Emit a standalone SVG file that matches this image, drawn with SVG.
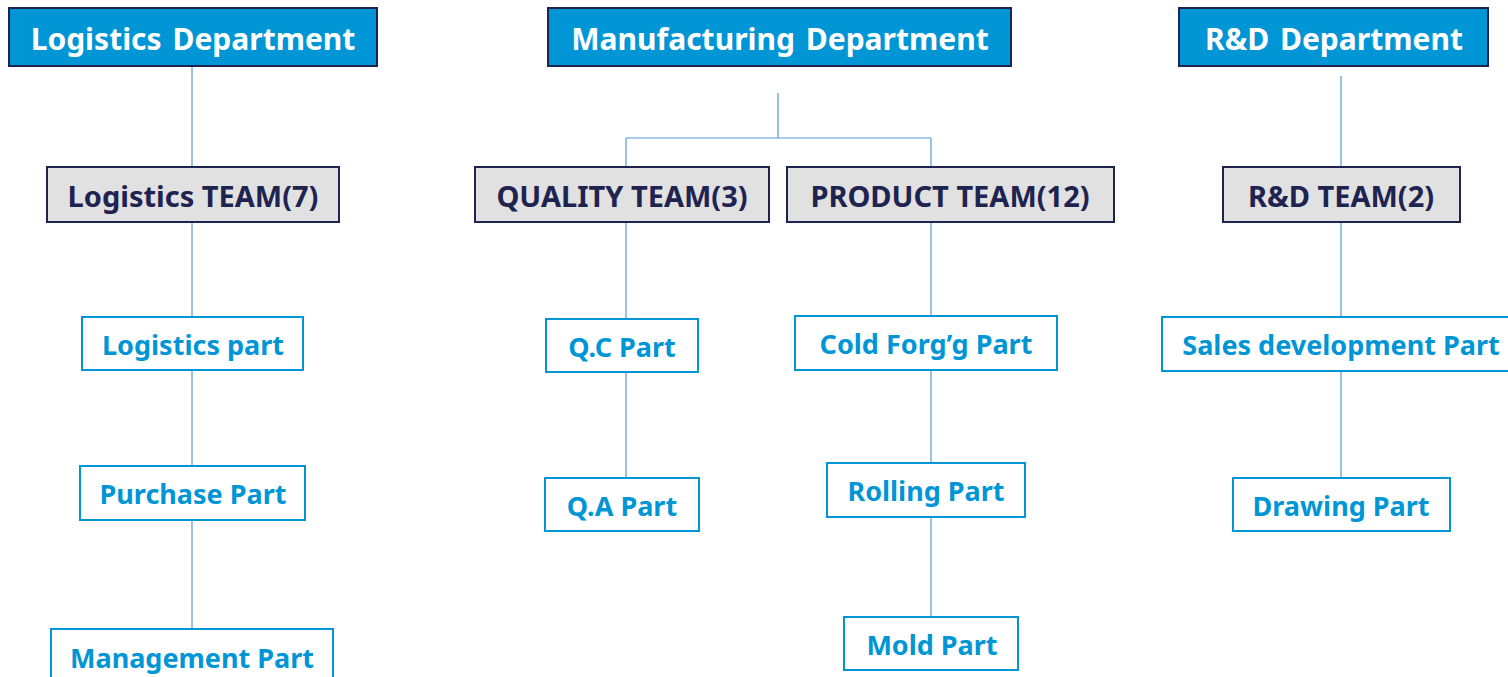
<svg xmlns="http://www.w3.org/2000/svg" width="1508" height="677" viewBox="0 0 1508 677">
  <style>
    text { font-family: "Noto Sans", "Open Sans", "Liberation Sans", sans-serif; font-weight: bold; text-anchor: middle; dominant-baseline: central; }
    .dept rect { fill: #0096D6; stroke: #1F2350; stroke-width: 2; }
    .dept text { fill: #FFFFFF; font-size: 30px; word-spacing: 3px; }
    .team rect { fill: #E1E1E1; stroke: #1F2350; stroke-width: 2; }
    .team text { fill: #1F2350; font-size: 29px; }
    .part rect { fill: #FFFFFF; stroke: #0096D6; stroke-width: 2; }
    .part text { fill: #0096D6; font-size: 27px; }
    .links { stroke: #5B9BD5; stroke-width: 1.2; fill: none; }
  </style>
  <rect width="1508" height="677" fill="#FFFFFF"/>

  <!-- connectors -->
  <g id="connectors" class="links">
    <path d="M192 66V167M192 222V317M192 370V466M192 520V629"/>
    <path d="M778 93V138M626 138H931M626 138V167M931 138V167"/>
    <path d="M626 222V319M626 372V478"/>
    <path d="M931 222V316M931 370V463M931 517V617"/>
    <path d="M1341 76V167M1341 222V317M1341 371V478"/>
  </g>

  <!-- departments -->
  <g id="dept-logistics" class="dept"><rect x="9" y="8" width="368" height="58"/><text x="193" y="38">Logistics Department</text></g>
  <g id="dept-manufacturing" class="dept"><rect x="548" y="8" width="463" height="58"/><text x="780" y="38">Manufacturing Department</text></g>
  <g id="dept-rnd" class="dept"><rect x="1179" y="8" width="309" height="58"/><text x="1334" y="38">R&amp;D Department</text></g>

  <!-- teams -->
  <g id="team-logistics" class="team"><rect x="47" y="167" width="292" height="55"/><text x="193" y="195">Logistics TEAM(7)</text></g>
  <g id="team-quality" class="team"><rect x="475" y="167" width="294" height="55"/><text x="622" y="195">QUALITY TEAM(3)</text></g>
  <g id="team-product" class="team"><rect x="787" y="167" width="327" height="55"/><text x="950" y="195">PRODUCT TEAM(12)</text></g>
  <g id="team-rnd" class="team"><rect x="1223" y="167" width="237" height="55"/><text x="1341" y="195">R&amp;D TEAM(2)</text></g>

  <!-- parts -->
  <g id="part-logistics" class="part"><rect x="82" y="317" width="221" height="53"/><text x="193" y="344">Logistics part</text></g>
  <g id="part-purchase" class="part"><rect x="80" y="466" width="225" height="54"/><text x="193" y="493">Purchase Part</text></g>
  <g id="part-management" class="part"><rect x="51" y="629" width="282" height="60"/><text x="192" y="657">Management Part</text></g>
  <g id="part-qc" class="part"><rect x="546" y="319" width="152" height="53"/><text x="622" y="346">Q.C Part</text></g>
  <g id="part-qa" class="part"><rect x="545" y="478" width="154" height="53"/><text x="622" y="505">Q.A Part</text></g>
  <g id="part-coldforging" class="part"><rect x="795" y="316" width="262" height="54"/><text x="926" y="343">Cold Forg’g Part</text></g>
  <g id="part-rolling" class="part"><rect x="827" y="463" width="198" height="54"/><text x="926" y="490">Rolling Part</text></g>
  <g id="part-mold" class="part"><rect x="844" y="617" width="174" height="53"/><text x="932" y="644">Mold Part</text></g>
  <g id="part-sales" class="part"><rect x="1162" y="317" width="356" height="54"/><text x="1341" y="344">Sales development Part</text></g>
  <g id="part-drawing" class="part"><rect x="1233" y="478" width="217" height="53"/><text x="1341" y="505">Drawing Part</text></g>
</svg>
